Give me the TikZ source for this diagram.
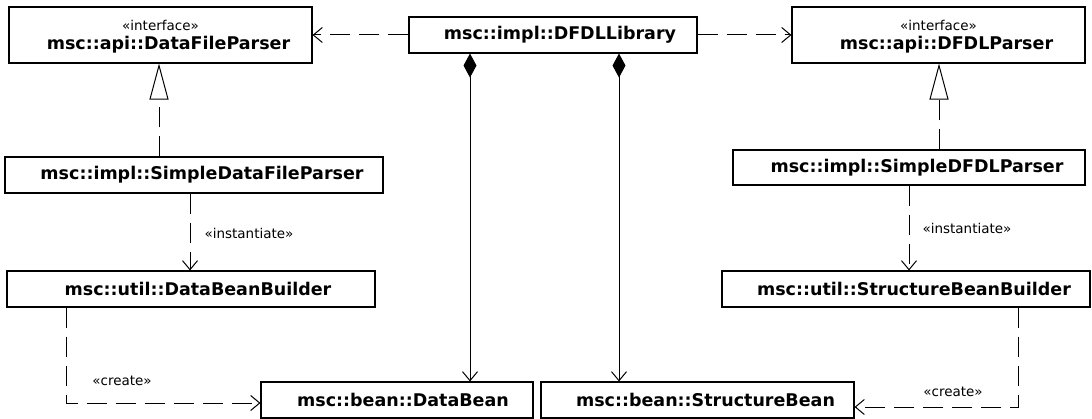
\documentclass[tikz,border=0pt]{standalone}
\usepackage{fontspec}
\setmainfont{DejaVu Sans}
\usetikzlibrary{arrows.meta}
\begin{document}
\begin{tikzpicture}[x=1pt,y=-1pt,
  box/.style={draw, line width=1.1pt, inner sep=0pt, minimum height=36pt},
  cname/.style={font=\bfseries\fontsize{17.5}{21}\selectfont, inner sep=0pt},
  stereo/.style={font=\fontsize{13.5}{16}\selectfont, inner sep=0pt},
  link/.style={line width=1pt},
  depend/.style={link, dash pattern=on 20pt off 9pt, -{Straight Barb[length=9pt,width=15pt]}},
  realize/.style={link, dash pattern=on 20pt off 9pt, -{Triangle[open,length=36pt,width=19pt]}},
  compose/.style={link, {Diamond[length=24pt,width=13pt]}-{Straight Barb[length=9pt,width=15pt]}},
]
\useasboundingbox (0,0) rectangle (1092,419);
\fill[white] (0,0) rectangle (1092,419);

% interfaces
\node[box, minimum width=303pt, minimum height=56pt,
  label={[stereo, yshift=10pt]center:«interface»},
  label={[cname, xshift=8pt, yshift=-10pt]center:msc::api::DataFileParser}] (dfp) at (160.5,35) {};
\node[box, minimum width=293pt, minimum height=56pt,
  label={[stereo, yshift=10pt]center:«interface»},
  label={[cname, xshift=8pt, yshift=-10pt]center:msc::api::DFDLParser}] (dp) at (938.5,35) {};

% library
\node[box, minimum width=288pt,
  label={[cname, xshift=7pt]center:msc::impl::DFDLLibrary}] (lib) at (553,35) {};

% implementations
\node[box, minimum width=378pt,
  label={[cname, xshift=8pt]center:msc::impl::SimpleDataFileParser}] (sdfp) at (194,175) {};
\node[box, minimum width=352pt, minimum height=35pt,
  label={[cname, xshift=8pt]center:msc::impl::SimpleDFDLParser}] (sdp) at (909,167.5) {};

% builders
\node[box, minimum width=368pt,
  label={[cname, xshift=7pt]center:msc::util::DataBeanBuilder}] (dbb) at (191,289) {};
\node[box, minimum width=368pt,
  label={[cname, xshift=8pt]center:msc::util::StructureBeanBuilder}] (sbb) at (906,289) {};

% beans
\node[box, minimum width=272pt,
  label={[cname, xshift=6pt]center:msc::bean::DataBean}] (db) at (397,400) {};
\node[box, minimum width=313pt,
  label={[cname, xshift=8pt]center:msc::bean::StructureBean}] (sb) at (697.5,400) {};

% connector columns
\coordinate (rl) at (159,0);
\coordinate (rr) at (939,0);
\coordinate (il) at (190,0);
\coordinate (ir) at (909,0);
\coordinate (cl) at (470,0);
\coordinate (cr) at (619,0);
\coordinate (bendl) at (66,403);
\coordinate (bendr) at (1018,407);

% usage dependencies
\draw[depend] (lib.west) -- (dfp.east);
\draw[depend] (lib.east) -- (dp.west);

% realizations
\draw[realize] (sdfp.north -| rl) -- (dfp.south -| rl);
\draw[realize] (sdp.north -| rr) -- (dp.south -| rr);

% instantiation
\draw[depend] (sdfp.south -| il) -- (dbb.north -| il);
\draw[depend] (sdp.south -| ir) -- (sbb.north -| ir);
\node[stereo] (instl) at (249,233) {«instantiate»};
\node[stereo] (instr) at (967,228) {«instantiate»};

% compositions
\draw[compose] (lib.south -| cl) -- (db.north -| cl);
\draw[compose] (lib.south -| cr) -- (sb.north -| cr);

% creation
\draw[depend] (dbb.south -| bendl) -- (bendl) -- (db.west |- bendl);
\draw[depend] (sbb.south -| bendr) -- (bendr) -- (sb.east |- bendr);
\node[stereo] (crel) at (122,381) {«create»};
\node[stereo] (crer) at (953,392) {«create»};
\end{tikzpicture}
\end{document}
